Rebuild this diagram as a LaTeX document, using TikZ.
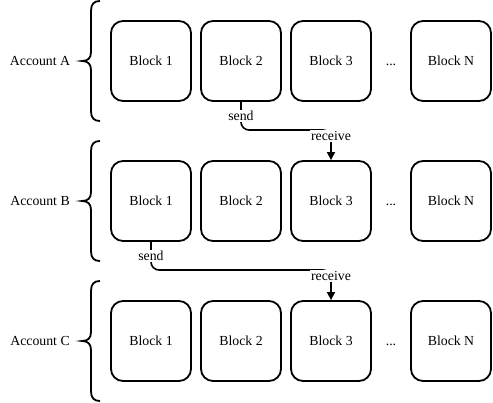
\documentclass[tikz,border=0pt]{standalone}
\usepackage{fontspec}
\setmainfont{Liberation Serif}
\usetikzlibrary{arrows.meta}
\begin{document}
\begin{tikzpicture}[x=1pt,y=-1pt,
  blk/.style={draw,line width=1.8pt,rounded corners=12pt,minimum size=80pt,inner sep=0pt,font=\fontsize{13.8}{16}\selectfont},
  txt/.style={inner sep=1pt,font=\fontsize{13.8}{16}\selectfont},
  dotstyle/.style={inner sep=1pt,text height=9.4pt,text depth=0pt,font=\fontsize{13.8}{16}\selectfont},
  lbl/.style={fill=white,inner sep=1pt,font=\fontsize{13.8}{16}\selectfont},
  edge/.style={line width=1.6pt,rounded corners=8pt,-{Triangle[length=8pt,width=8pt]}},
  bracestyle/.style={line width=1.8pt}]
\useasboundingbox (0,0) rectangle (493,402);
\foreach \r/\y in {A/61,B/201,C/341}{
  \node[txt] (acc\r) at (40,\y) {Account \r};
  \node[blk] (b1\r) at (151,\y) {Block 1};
  \node[blk] (b2\r) at (241,\y) {Block 2};
  \node[blk] (b3\r) at (331,\y) {Block 3};
  \node[dotstyle] (dots\r) at (391,\y) {...};
  \node[blk] (bN\r) at (451,\y) {Block N};
  \draw[bracestyle] (100,\y-60) .. controls (94,\y-60) and (91,\y-57) .. (91,\y-50)
     -- (91,\y-9) .. controls (91,\y-3) and (88,\y) .. (82,\y)
     .. controls (88,\y) and (91,\y+3) .. (91,\y+9)
     -- (91,\y+50) .. controls (91,\y+57) and (94,\y+60) .. (100,\y+60);
}
\coordinate (c1) at (241,130);
\coordinate (c2) at (151,270);
\draw[edge] (b2A.south) -- (c1) -| (b3B.north);
\node[lbl] (sendA) at (241,116) {send};
\node[lbl] (recvA) at (331,136) {receive};
\draw[edge] (b1B.south) -- (c2) -| (b3C.north);
\node[lbl] (sendB) at (151,256) {send};
\node[lbl] (recvB) at (331,276) {receive};
\end{tikzpicture}
\end{document}
